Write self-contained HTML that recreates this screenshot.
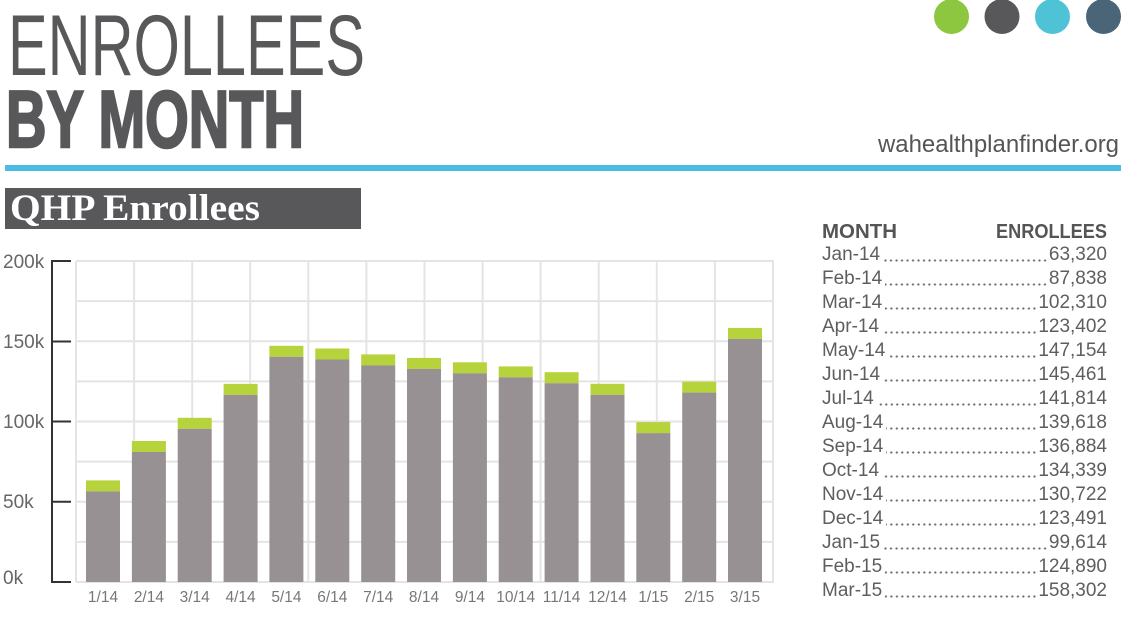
<!DOCTYPE html>
<html>
<head>
<meta charset="utf-8">
<style>
  html,body{margin:0;padding:0;background:#fff;}
  body{width:1124px;height:618px;position:relative;overflow:hidden;font-family:"Liberation Sans",sans-serif;}
  svg{position:absolute;left:0;top:0;}
  .row{position:absolute;left:822px;width:285px;height:24px;line-height:24px;font-size:19px;color:#5e5e5e;display:flex;white-space:nowrap;}
  .row .m{flex:none;}
  .row .d{flex:1;margin-left:3px;margin-right:1px;
    background-image:radial-gradient(circle at 2.75px 1.5px,#6a6a6a 0.9px,rgba(255,255,255,0) 1.3px);
    background-size:5.5px 3px;background-repeat:repeat-x;background-position:right 0 top 15.5px;}
  .row .n{flex:none;}
</style>
</head>
<body>
<svg width="1124" height="618" viewBox="0 0 1124 618" xmlns="http://www.w3.org/2000/svg">
  <!-- Titles -->
  <text x="8" y="75" font-family="Liberation Sans, sans-serif" font-size="86" fill="#58585a" textLength="357" lengthAdjust="spacingAndGlyphs">ENROLLEES</text>
  <text x="6" y="147" font-family="Liberation Sans, sans-serif" font-weight="bold" font-size="81" fill="#58585a" stroke="#58585a" stroke-width="2.5" textLength="298" lengthAdjust="spacingAndGlyphs">BY MONTH</text>

  <!-- dots -->
  <circle cx="951.5" cy="16.5" r="17.5" fill="#8dc63f"/>
  <circle cx="1002" cy="16.5" r="17.5" fill="#58585a"/>
  <circle cx="1052.5" cy="16.5" r="17.5" fill="#4fc3d6"/>
  <circle cx="1103.5" cy="16.5" r="17.5" fill="#4a6478"/>

  <text x="878" y="152" font-family="Liberation Sans, sans-serif" font-size="24" fill="#555" textLength="241" lengthAdjust="spacingAndGlyphs">wahealthplanfinder.org</text>

  <!-- blue rule -->
  <rect x="5" y="165" width="1116" height="6" fill="#4bbde2"/>

  <!-- QHP box -->
  <rect x="5" y="188" width="356" height="41" fill="#58585a"/>
  <text x="10" y="220" font-family="Liberation Serif, serif" font-weight="bold" font-size="37" fill="#fff" textLength="250" lengthAdjust="spacingAndGlyphs">QHP Enrollees</text>

  <!-- table header -->
  <text x="822" y="238" font-family="Liberation Sans, sans-serif" font-weight="bold" font-size="20" fill="#555" textLength="75" lengthAdjust="spacingAndGlyphs">MONTH</text>
  <text x="996" y="238" font-family="Liberation Sans, sans-serif" font-weight="bold" font-size="20" fill="#555" textLength="111" lengthAdjust="spacingAndGlyphs">ENROLLEES</text>

  <!-- grid -->
  <g stroke="#e4e4e4" stroke-width="2" fill="none">
    <line x1="76" y1="261" x2="774" y2="261"/>
    <line x1="76" y1="301.1" x2="774" y2="301.1"/>
    <line x1="76" y1="341.3" x2="774" y2="341.3"/>
    <line x1="76" y1="381.4" x2="774" y2="381.4"/>
    <line x1="76" y1="421.5" x2="774" y2="421.5"/>
    <line x1="76" y1="461.6" x2="774" y2="461.6"/>
    <line x1="76" y1="501.8" x2="774" y2="501.8"/>
    <line x1="76" y1="541.9" x2="774" y2="541.9"/>
    <line x1="76" y1="582" x2="774" y2="582"/>
    <line x1="76" y1="261" x2="76" y2="582"/>
    <line x1="134.1" y1="261" x2="134.1" y2="582"/>
    <line x1="192.2" y1="261" x2="192.2" y2="582"/>
    <line x1="250.2" y1="261" x2="250.2" y2="582"/>
    <line x1="308.3" y1="261" x2="308.3" y2="582"/>
    <line x1="366.4" y1="261" x2="366.4" y2="582"/>
    <line x1="424.5" y1="261" x2="424.5" y2="582"/>
    <line x1="482.6" y1="261" x2="482.6" y2="582"/>
    <line x1="540.6" y1="261" x2="540.6" y2="582"/>
    <line x1="598.7" y1="261" x2="598.7" y2="582"/>
    <line x1="656.8" y1="261" x2="656.8" y2="582"/>
    <line x1="714.9" y1="261" x2="714.9" y2="582"/>
    <line x1="773" y1="261" x2="773" y2="582"/>
  </g>

  <!-- y axis -->
  <g stroke="#333" stroke-width="2" fill="none">
    <line x1="52" y1="260" x2="52" y2="583"/>
    <line x1="51" y1="261" x2="71" y2="261"/>
    <line x1="51" y1="341.5" x2="71" y2="341.5"/>
    <line x1="51" y1="421.5" x2="71" y2="421.5"/>
    <line x1="51" y1="501.8" x2="71" y2="501.8"/>
    <line x1="51" y1="582" x2="71" y2="582"/>
  </g>
  <g font-family="Liberation Sans, sans-serif" font-size="19" fill="#666">
    <text x="3" y="268">200k</text>
    <text x="3" y="348">150k</text>
    <text x="3" y="428">100k</text>
    <text x="3" y="508">50k</text>
    <text x="3" y="584">0k</text>
  </g>

  <!-- bars -->
  <g>
    <rect x="86" y="480.4" width="34" height="11" fill="#b6d33c"/><rect x="86" y="491.4" width="34" height="90.6" fill="#979193"/>
    <rect x="131.9" y="441" width="34" height="11" fill="#b6d33c"/><rect x="131.9" y="452" width="34" height="130" fill="#979193"/>
    <rect x="177.7" y="417.8" width="34" height="11" fill="#b6d33c"/><rect x="177.7" y="428.8" width="34" height="153.2" fill="#979193"/>
    <rect x="223.6" y="383.9" width="34" height="11" fill="#b6d33c"/><rect x="223.6" y="394.9" width="34" height="187.1" fill="#979193"/>
    <rect x="269.4" y="345.8" width="34" height="11" fill="#b6d33c"/><rect x="269.4" y="356.8" width="34" height="225.2" fill="#979193"/>
    <rect x="315.3" y="348.5" width="34" height="11" fill="#b6d33c"/><rect x="315.3" y="359.5" width="34" height="222.5" fill="#979193"/>
    <rect x="361.2" y="354.4" width="34" height="11" fill="#b6d33c"/><rect x="361.2" y="365.4" width="34" height="216.6" fill="#979193"/>
    <rect x="407" y="357.9" width="34" height="11" fill="#b6d33c"/><rect x="407" y="368.9" width="34" height="213.1" fill="#979193"/>
    <rect x="452.9" y="362.3" width="34" height="11" fill="#b6d33c"/><rect x="452.9" y="373.3" width="34" height="208.7" fill="#979193"/>
    <rect x="498.7" y="366.4" width="34" height="11" fill="#b6d33c"/><rect x="498.7" y="377.4" width="34" height="204.6" fill="#979193"/>
    <rect x="544.6" y="372.2" width="34" height="11" fill="#b6d33c"/><rect x="544.6" y="383.2" width="34" height="198.8" fill="#979193"/>
    <rect x="590.5" y="383.8" width="34" height="11" fill="#b6d33c"/><rect x="590.5" y="394.8" width="34" height="187.2" fill="#979193"/>
    <rect x="636.3" y="422.1" width="34" height="11" fill="#b6d33c"/><rect x="636.3" y="433.1" width="34" height="148.9" fill="#979193"/>
    <rect x="682.2" y="381.6" width="34" height="11" fill="#b6d33c"/><rect x="682.2" y="392.6" width="34" height="189.4" fill="#979193"/>
    <rect x="728" y="327.9" width="34" height="11" fill="#b6d33c"/><rect x="728" y="338.9" width="34" height="243.1" fill="#979193"/>
  </g>

  <!-- x labels -->
  <g font-family="Liberation Sans, sans-serif" font-size="15.5" fill="#777" text-anchor="middle">
    <text x="103" y="602">1/14</text>
    <text x="148.9" y="602">2/14</text>
    <text x="194.7" y="602">3/14</text>
    <text x="240.6" y="602">4/14</text>
    <text x="286.4" y="602">5/14</text>
    <text x="332.3" y="602">6/14</text>
    <text x="378.2" y="602">7/14</text>
    <text x="424" y="602">8/14</text>
    <text x="469.9" y="602">9/14</text>
    <text x="515.7" y="602">10/14</text>
    <text x="561.6" y="602">11/14</text>
    <text x="607.5" y="602">12/14</text>
    <text x="653.3" y="602">1/15</text>
    <text x="699.2" y="602">2/15</text>
    <text x="745" y="602">3/15</text>
  </g>
</svg>

<div class="row" style="top:243.4px"><span class="m">Jan-14</span><span class="d"></span><span class="n">63,320</span></div>
<div class="row" style="top:267.4px"><span class="m">Feb-14</span><span class="d"></span><span class="n">87,838</span></div>
<div class="row" style="top:291.4px"><span class="m">Mar-14</span><span class="d"></span><span class="n">102,310</span></div>
<div class="row" style="top:315.4px"><span class="m">Apr-14</span><span class="d"></span><span class="n">123,402</span></div>
<div class="row" style="top:339.4px"><span class="m">May-14</span><span class="d"></span><span class="n">147,154</span></div>
<div class="row" style="top:363.4px"><span class="m">Jun-14</span><span class="d"></span><span class="n">145,461</span></div>
<div class="row" style="top:387.4px"><span class="m">Jul-14</span><span class="d"></span><span class="n">141,814</span></div>
<div class="row" style="top:411.4px"><span class="m">Aug-14</span><span class="d"></span><span class="n">139,618</span></div>
<div class="row" style="top:435.4px"><span class="m">Sep-14</span><span class="d"></span><span class="n">136,884</span></div>
<div class="row" style="top:459.4px"><span class="m">Oct-14</span><span class="d"></span><span class="n">134,339</span></div>
<div class="row" style="top:483.4px"><span class="m">Nov-14</span><span class="d"></span><span class="n">130,722</span></div>
<div class="row" style="top:507.4px"><span class="m">Dec-14</span><span class="d"></span><span class="n">123,491</span></div>
<div class="row" style="top:531.4px"><span class="m">Jan-15</span><span class="d"></span><span class="n">99,614</span></div>
<div class="row" style="top:555.4px"><span class="m">Feb-15</span><span class="d"></span><span class="n">124,890</span></div>
<div class="row" style="top:579.4px"><span class="m">Mar-15</span><span class="d"></span><span class="n">158,302</span></div>
</body>
</html>
